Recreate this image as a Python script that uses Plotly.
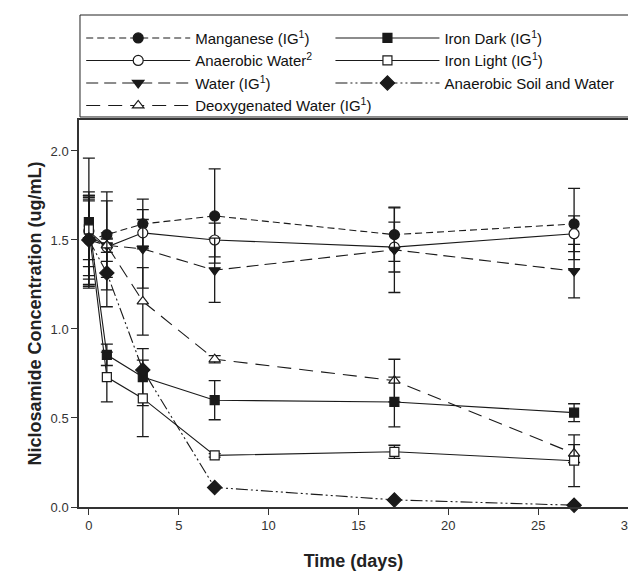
import plotly.graph_objects as go

days = [0, 1, 3, 7, 17, 27]

names = [
    "Manganese (IG<sup>1</sup>)",
    "Anaerobic Water<sup>2</sup>",
    "Water (IG<sup>1</sup>)",
    "Deoxygenated Water (IG<sup>1</sup>)",
    "Iron Dark (IG<sup>1</sup>)",
    "Iron Light (IG<sup>1</sup>)",
    "Anaerobic Soil and Water",
]
legend_column = ["legend", "legend", "legend", "legend", "legend2", "legend2", "legend2"]

manganese = [1.50, 1.53, 1.59, 1.635, 1.53, 1.59]
manganese_err = [0.27, 0.24, 0.14, 0.265, 0.15, 0.20]
anaerobic_water = [1.55, 1.46, 1.54, 1.50, 1.46, 1.535]
anaerobic_water_err = [0.20, 0.08, 0.075, 0.095, 0.14, 0.10]
water = [1.50, 1.47, 1.45, 1.33, 1.445, 1.325]
water_err = [0.22, 0.25, 0.22, 0.18, 0.24, 0.15]
deoxygenated = [1.52, 1.47, 1.155, 0.83, 0.71, 0.30]
deoxygenated_err = [0.22, 0.04, 0.19, 0.02, 0.12, 0.05]
iron_dark = [1.60, 0.855, 0.73, 0.60, 0.59, 0.53]
iron_dark_err = [0.36, 0.06, 0.16, 0.11, 0.14, 0.05]
iron_light = [1.56, 0.73, 0.61, 0.29, 0.31, 0.26]
iron_light_err = [0.17, 0.14, 0.215, 0.01, 0.037, 0.145]
anaerobic_soil = [1.50, 1.315, 0.77, 0.11, 0.04, 0.01]
anaerobic_soil_err = [0.25, 0.19, 0.0, 0.0, 0.0, 0.0]

values = [manganese, anaerobic_water, water, deoxygenated, iron_dark, iron_light, anaerobic_soil]
errors = [manganese_err, anaerobic_water_err, water_err, deoxygenated_err, iron_dark_err,
          iron_light_err, anaerobic_soil_err]

INK = "#1a1a1a"
styles = [
    dict(symbol="circle", fill=INK, size=10, dash="7px,4px"),
    dict(symbol="circle", fill="white", size=10, dash="solid"),
    dict(symbol="triangle-down", fill=INK, size=10, dash="12px,6px"),
    dict(symbol="triangle-up", fill="white", size=10, dash="14px,8px"),
    dict(symbol="square", fill=INK, size=9, dash="solid"),
    dict(symbol="square", fill="white", size=9, dash="solid"),
    dict(symbol="diamond", fill=INK, size=11, dash="12px,3px,2px,3px,2px,3px"),
]

fig = go.Figure()
for name, y, e, s, lg in zip(names, values, errors, styles, legend_column):
    fig.add_trace(go.Scatter(
        x=days, y=y, name=name, mode="lines+markers", legend=lg,
        line=dict(color=INK, width=1.1, dash=s["dash"]),
        marker=dict(symbol=s["symbol"], size=s["size"], color=s["fill"],
                    line=dict(color=INK, width=1.2)),
        error_y=dict(type="data", array=e, visible=True, color=INK, thickness=1.3, width=6),
        cliponaxis=False,
    ))

legend_common = dict(
    orientation="v", yanchor="top", y=1.254, itemwidth=104, traceorder="normal",
    borderwidth=0, bgcolor="rgba(0,0,0,0)", font=dict(size=15, color="#111"),
)

fig.update_layout(
    width=628, height=563,
    margin=dict(l=71, r=8, t=112, b=64, autoexpand=False),
    paper_bgcolor="white", plot_bgcolor="white",
    font=dict(family="Liberation Sans, Arial, sans-serif", size=13, color="#222"),
    showlegend=True,
    legend=dict(x=0.004, xanchor="left", **legend_common),
    legend2=dict(x=0.458, xanchor="left", **legend_common),
    shapes=[dict(type="rect", xref="paper", yref="paper", x0=0.0018, x1=1.0036,
                 y0=1.0078, y1=1.2713, line=dict(color="#222", width=1), layer="above")],
    xaxis=dict(
        range=[-0.55, 30], dtick=5, tick0=0, showgrid=False, zeroline=False,
        showline=True, linecolor="#333", linewidth=1.5, mirror=True,
        ticks="outside", ticklen=6, tickcolor="#333", tickwidth=1.3,
        tickfont=dict(size=13, color="#333"), automargin=False,
        title=dict(text="<b>Time (days)</b>", font=dict(size=18, color="#222"), standoff=28),
    ),
    yaxis=dict(
        range=[0, 2.174], dtick=0.5, tick0=0, tickformat=".1f", showgrid=False, zeroline=False,
        showline=True, linecolor="#333", linewidth=1.5, mirror=True,
        ticks="outside", ticklen=6, tickcolor="#333", tickwidth=1.3,
        tickfont=dict(size=13, color="#333"), automargin=False,
        title=dict(text="<b>Niclosamide Concentration (ug/mL)</b>", font=dict(size=18, color="#222"),
                   standoff=4),
    ),
)

fig.write_html("out.html")
